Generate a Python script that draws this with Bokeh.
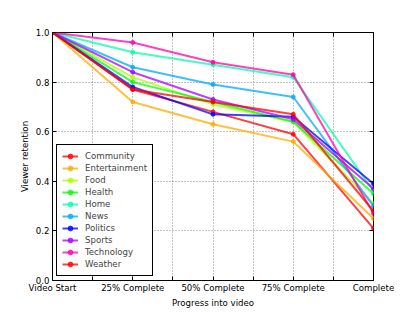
from bokeh.plotting import figure
from bokeh.models import FixedTicker, LinearAxis, Legend, LegendItem, Range1d
from bokeh.embed import file_html
from bokeh.resources import INLINE

stages = ["Video Start", "25% Complete", "50% Complete", "75% Complete", "Complete"]
categories = ["Community", "Entertainment", "Food", "Health", "Home",
              "News", "Politics", "Sports", "Technology", "Weather"]
community = [1.0, 0.77, 0.68, 0.59, 0.21]
entertainment = [1.0, 0.72, 0.63, 0.56, 0.25]
food = [1.0, 0.82, 0.71, 0.64, 0.31]
health = [1.0, 0.80, 0.72, 0.64, 0.35]
home = [1.0, 0.92, 0.87, 0.82, 0.36]
news = [1.0, 0.86, 0.79, 0.74, 0.30]
politics = [1.0, 0.78, 0.67, 0.66, 0.39]
sports = [1.0, 0.84, 0.73, 0.65, 0.37]
technology = [1.0, 0.96, 0.88, 0.83, 0.27]
weather = [1.0, 0.77, 0.72, 0.67, 0.28]
series = [community, entertainment, food, health, home, news, politics, sports, technology, weather]
colors = ["#ff0000", "#ffaa00", "#aaff00", "#00ff00", "#00ffaa",
          "#00aaff", "#0000ff", "#aa00ff", "#ff00aa", "#ff0000"]
y_ticks = [0.0, 0.2, 0.4, 0.6, 0.8, 1.0]

x = list(range(len(stages)))

p = figure(width=415, height=312, output_backend="svg", toolbar_location=None,
           x_range=Range1d(0, len(stages) - 1), y_range=Range1d(0, 1.0),
           min_border_left=52, min_border_right=42, min_border_top=32, min_border_bottom=32)
p.outline_line_color = "black"
p.outline_line_width = 1
p.outline_line_alpha = 1

font = "DejaVu Sans"
fs = "8.6px"
xt = [i * 0.5 for i in range(2 * (len(stages) - 1) + 1)]
p.xaxis.ticker = FixedTicker(ticks=xt)
overrides = {}
for t in xt:
    overrides[t] = stages[int(t)] if t == int(t) else ""
p.xaxis.major_label_overrides = overrides
p.yaxis.ticker = FixedTicker(ticks=y_ticks)
p.yaxis.major_label_overrides = {v: f"{v:.1f}" for v in y_ticks}

for ax in [p.xaxis[0], p.yaxis[0]]:
    ax.major_tick_in = 4
    ax.major_tick_out = 0
    ax.minor_tick_in = 0
    ax.minor_tick_out = 0
    ax.axis_line_color = None
    ax.major_label_text_font = font
    ax.major_label_text_font_size = fs
    ax.major_label_text_color = "black"
    ax.axis_label_text_font = font
    ax.axis_label_text_font_size = fs
    ax.axis_label_text_font_style = "normal"
    ax.axis_label_text_color = "black"
    ax.major_label_standoff = 3
    ax.axis_label_standoff = 3

p.xaxis.axis_label = "Progress into video"
p.yaxis.axis_label = "Viewer retention"
p.xaxis.major_label_standoff = 2
p.xaxis.axis_label_standoff = 2

right = LinearAxis(ticker=FixedTicker(ticks=y_ticks), major_tick_in=4, major_tick_out=0,
                   minor_tick_in=0, minor_tick_out=0, axis_line_color=None,
                   major_label_overrides={v: "" for v in y_ticks}, major_label_standoff=0)
p.add_layout(right, "right")
top = LinearAxis(ticker=FixedTicker(ticks=xt), major_tick_in=4, major_tick_out=0,
                 minor_tick_in=0, minor_tick_out=0, axis_line_color=None,
                 major_label_overrides={t: "" for t in xt}, major_label_standoff=0)
p.add_layout(top, "above")

for g in [p.xgrid[0], p.ygrid[0]]:
    g.grid_line_color = "#888888"
    g.grid_line_dash = "1 2"
    g.grid_line_width = 1

items = []
for name, vals, c in zip(categories, series, colors):
    r1 = p.line(x, vals, line_color=c, line_width=2, line_alpha=0.75)
    r2 = p.scatter(x, vals, size=4, fill_color=c, line_color=c, fill_alpha=0.75, line_alpha=0.75)
    items.append(LegendItem(label=name, renderers=[r1, r2]))

legend = Legend(items=items, location=(4, 4), padding=5, spacing=0, margin=0,
                label_height=12, glyph_height=12, glyph_width=16, label_standoff=7,
                label_text_font=font, label_text_font_size=fs,
                border_line_color="black", border_line_width=1, border_line_alpha=1,
                background_fill_color="white", background_fill_alpha=1)
p.add_layout(legend, "center")

open("out.html", "w").write(file_html(p, INLINE))
